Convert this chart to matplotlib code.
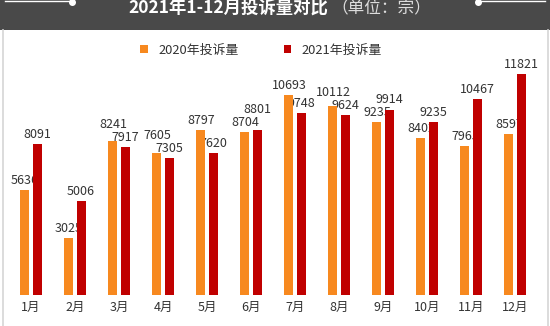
import matplotlib
matplotlib.use("Agg")
import matplotlib.pyplot as plt
from matplotlib.patches import Rectangle
from matplotlib.lines import Line2D
import numpy as np

plt.rcParams['font.family'] = ['Noto Sans CJK SC', 'DejaVu Sans']

months = ['1月', '2月', '3月', '4月', '5月', '6月', '7月', '8月', '9月', '10月', '11月', '12月']
v2020 = [5636, 3025, 8241, 7605, 8797, 8704, 10693, 10112, 9235, 8402, 7965, 8597]
v2021 = [8091, 5006, 7917, 7305, 7620, 8801, 9748, 9624, 9914, 9235, 10467, 11821]
series_names = ['2020年投诉量', '2021年投诉量']
title_main = '2021年1-12月投诉量对比'
title_unit = '（单位：宗）'

c2020 = '#F7891F'
c2021 = '#C00000'
txt = '#333333'

W, H = 550, 326
fig = plt.figure(figsize=(W / 100, H / 100), dpi=100)
fig.patch.set_facecolor('white')

# header band
fig.patches.append(Rectangle((0, 1 - 30 / H), 1, 30 / H, transform=fig.transFigure,
                             facecolor='#494949', edgecolor='none', zorder=0))
# side borders
for xp in (2.5, 547.5):
    fig.add_artist(Line2D([xp / W, xp / W], [0, 1 - 30 / H], transform=fig.transFigure,
                          color='#d6d6d6', lw=1.2))
# decorative lines with dots
fig.add_artist(Line2D([5 / W, 72 / W], [1 - 1 / H, 1 - 1 / H], transform=fig.transFigure,
                      color='white', lw=1))
fig.add_artist(Line2D([72 / W], [1 - 1.5 / H], transform=fig.transFigure, marker='o',
                      markersize=4, color='white', lw=0))
fig.add_artist(Line2D([478 / W, 545 / W], [1 - 1 / H, 1 - 1 / H], transform=fig.transFigure,
                      color='white', lw=1))
fig.add_artist(Line2D([478 / W], [1 - 1.5 / H], transform=fig.transFigure, marker='o',
                      markersize=4, color='white', lw=0))

fig.text(328 / W, 1 - 8 / H, title_main, color='white', fontsize=12.5, fontweight='bold',
         ha='right', va='center')
fig.text(331 / W, 1 - 8 / H, title_unit, color='#dddddd', fontsize=12,
         ha='left', va='center')

ax = fig.add_axes([9 / W, 31 / H, 528 / W, (295 - 40) / H])
x = np.arange(len(months))
w = 0.205
off = 0.137
b1 = ax.bar(x - off, v2020, w, color=c2020, label=series_names[0], zorder=3)
b2 = ax.bar(x + off, v2021, w, color=c2021, label=series_names[1], zorder=3)
scale = 0.0187  # pixels per unit
ax.set_ylim(0, 255 / scale)
ax.set_xlim(-0.5, len(months) - 0.5)

# label placement: 3 px above bar, push the higher label up when the pair collides
gap_px = 3.0
min_sep = 13.0
for i in range(len(months)):
    h1, h2 = v2020[i] * scale, v2021[i] * scale
    o1 = o2 = gap_px
    if abs(h1 - h2) < min_sep:
        if h1 >= h2:
            o1 = (h2 + gap_px + min_sep) - h1
        else:
            o2 = (h1 + gap_px + min_sep) - h2
    for r, v, o in ((b1[i], v2020[i], o1), (b2[i], v2021[i], o2)):
        ax.annotate(f'{v}', (r.get_x() + r.get_width() / 2, v), xytext=(0, o * 0.72),
                    textcoords='offset points', ha='center', va='bottom',
                    fontsize=9, color=txt, zorder=2)

ax.set_xticks(x)
ax.set_xticklabels(months, fontsize=9, color=txt)
ax.tick_params(axis='x', length=0, pad=4.5)
ax.set_yticks([])
for s in ax.spines.values():
    s.set_visible(False)
ax.patch.set_alpha(0)

leg = ax.legend(ncol=2, loc='center', bbox_to_anchor=(261 / W, 1 - 50 / H),
                bbox_transform=fig.transFigure, frameon=False, fontsize=9.3,
                handlelength=0.6, handleheight=0.6, handletextpad=0.8,
                columnspacing=3.5, labelcolor=txt)

fig.savefig('out.png', dpi=100)
